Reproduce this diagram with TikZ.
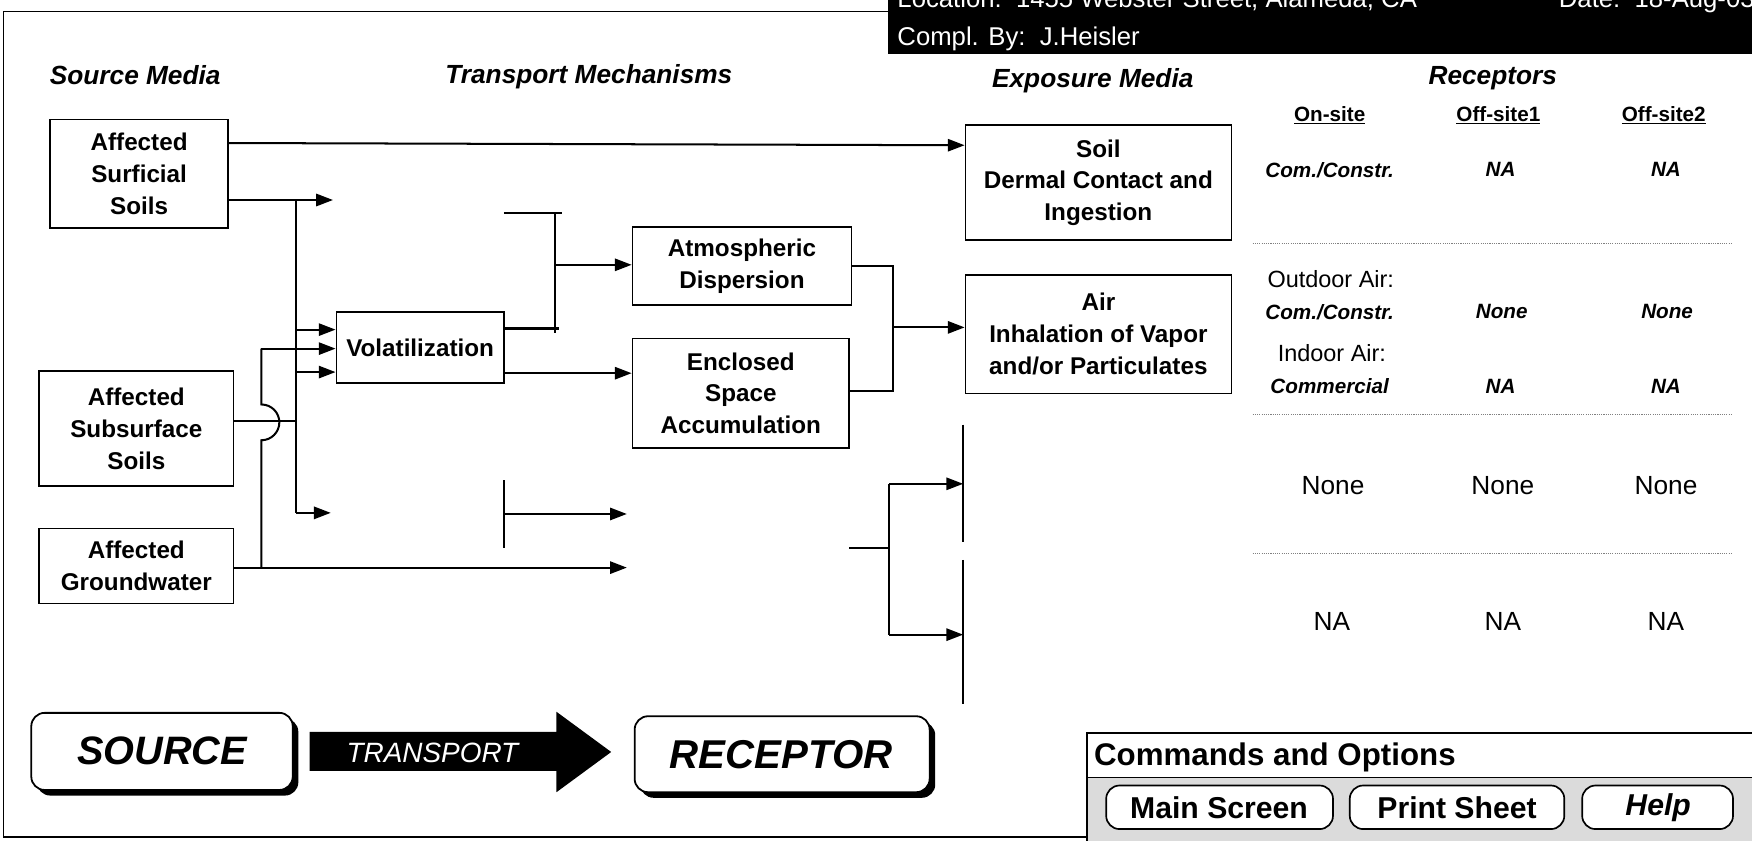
\documentclass[tikz,border=0pt]{standalone}
\usepackage{fontspec}
\setmainfont{Liberation Sans}
\usetikzlibrary{arrows.meta}
\begin{document}
\begin{tikzpicture}[x=1pt,y=-1pt,
  box/.style={draw, line width=1.4pt, align=center, inner sep=0pt,
    font=\bfseries\fontsize{21.7}{28.5}\selectfont},
  conn/.style={line width=1.8pt},
  arr/.style={conn, -{Triangle[length=15pt,width=11pt]}},
  hdr/.style={font=\bfseries\itshape\fontsize{23.5}{28}\selectfont},
  colhdr/.style={font=\bfseries\fontsize{18.5}{22}\selectfont},
  cellbi/.style={font=\bfseries\itshape\fontsize{18.5}{22}\selectfont},
  cellr/.style={font=\fontsize{21}{25}\selectfont},
  cellbig/.style={font=\fontsize{23.5}{28}\selectfont},
  sepline/.style={gray, line width=0.9pt, dash pattern=on 1pt off 1pt},
  bigbox/.style={draw, line width=1.6pt, rounded corners=12pt, fill=white},
  btn/.style={draw, line width=1.5pt, rounded corners=12pt, fill=white},
  btntext/.style={font=\bfseries\fontsize{27}{32}\selectfont},
  wtext/.style={white, font=\fontsize{23}{28}\selectfont, inner sep=0pt}
]
\useasboundingbox (0,0) rectangle (1568,752);
\clip (0,0) rectangle (1568,752);
\fill[white] (0,0) rectangle (1568,752);

% outer frame
\draw[line width=1.2pt] (795,10) -- (3,10) -- (3,749) -- (975,749);

% title bar
\fill[black] (795,-5) rectangle (1575,48);
\node[wtext, anchor=base west] (loc) at (803,7) {Location:\ \ 1455 Webster Street, Alameda, CA};
\node[wtext, anchor=base west] (date) at (1395,7) {Date:\ \ 18-Aug-03};
\node[wtext, anchor=base west] (compl) at (803,41) {Compl. By:\ \ J.Heisler};

% headers
\node[hdr] (hsrc) at (121,67) {Source Media};
\node[hdr] (htr) at (527,69) {Transport Mechanisms};
\node[hdr] (hexp) at (978,72) {Exposure Media};
\node[hdr] (hrec) at (1336,70) {Receptors};

% boxes
\node[box, minimum width=159pt, minimum height=97pt] (surf) at (124.5,155.5) {Affected\\Surficial\\Soils};
\node[box, minimum width=174pt, minimum height=103pt] (subs) at (122,383.5) {Affected\\Subsurface\\Soils};
\node[box, minimum width=174pt, minimum height=67pt] (gw) at (122,506.5) {Affected\\Groundwater};
\node[box, minimum width=150pt, minimum height=64pt] (vol) at (376,311) {Volatilization};
\node[box, minimum width=196pt, minimum height=70pt] (atm) at (664,238) {Atmospheric\\Dispersion};
\node[box, minimum width=194pt, minimum height=98pt] (enc) at (663,352) {Enclosed\\Space\\Accumulation};
\node[box, minimum width=238pt, minimum height=103pt] (soil) at (983,163.5) {Soil\\Dermal Contact and\\Ingestion};
\node[box, minimum width=238pt, minimum height=106pt] (air) at (983,299) {Air\\Inhalation of Vapor\\and/or Particulates};

% free connector ends (invisible boxes)
\coordinate (leachin) at (298,179);
\coordinate (leachout) at (451,191);
\coordinate (gwin) at (296,459);
\coordinate (gwout) at (451,460);
\coordinate (gwtr) at (561,460);
\coordinate (gwtr2) at (561,508);
\coordinate (gwexp) at (760,490);
\coordinate (hidA) at (862,433);
\coordinate (hidB) at (862,568);

% connectors
\draw[arr] (surf.east |- 0,128) -- (soil.west |- 0,130);
\draw[arr] (surf.east |- 0,179) -- (leachin);
\draw[conn] (265,179) -- (265,459);
\draw[arr] (265,295) -- (vol.west |- 0,295);
\draw[arr] (265,333) -- (vol.west |- 0,333);
\draw[arr] (265,459) -- (gwin);
\draw[conn] (subs.east |- 0,377) -- (265,377);
\draw[arr] (gw.east |- 0,508) -- (gwtr2);
\draw[conn] (234,508) -- (234,394) arc[start angle=-90, end angle=90, radius=16pt] -- (234,312);
\draw[arr] (234,312) -- (vol.west |- 0,312);

\draw[conn] (leachout) -- (503,191);
\draw[conn] (497,190) -- (497,298);
\draw[conn] (vol.east |- 0,294) -- (500,294);
\draw[arr] (497,237) -- (atm.west |- 0,237);
\draw[arr] (vol.east |- 0,334) -- (enc.west |- 0,334);

\draw[conn] (atm.east |- 0,238) -- (799,238) -- (799,350) -- (enc.east |- 0,350);
\draw[arr] (799,293) -- (air.west |- 0,293);

\draw[conn] (451,430) -- (451,490);
\draw[arr] (gwout) -- (gwtr);
\draw[conn] (gwexp) -- (796,490);
\draw[conn] (796,433) -- (796,568);
\draw[arr] (796,433) -- (hidA);
\draw[arr] (796,568) -- (hidB);
\draw[line width=1.2pt] (862,380) -- (862,485);
\draw[line width=1.2pt] (862,501) -- (862,630);

% receptors table
\node[colhdr] (onsite) at (1190,103) {\underline{On-site}};
\node[colhdr] (off1) at (1341,103) {\underline{Off-site1}};
\node[colhdr] (off2) at (1489,103) {\underline{Off-site2}};

\node[cellbi] (r1a) at (1190,152) {Com./Constr.};
\node[cellbi] (r1b) at (1343,152) {NA};
\node[cellbi] (r1c) at (1491,152) {NA};
\draw[sepline] (1121,218) -- (1551,218);

\node[cellr] (r2lab) at (1191,250) {Outdoor Air:};
\node[cellbi] (r2a) at (1190,279) {Com./Constr.};
\node[cellbi] (r2b) at (1344,279) {None};
\node[cellbi] (r2c) at (1492,279) {None};
\node[cellr] (r3lab) at (1192,316) {Indoor Air:};
\node[cellbi] (r3a) at (1190,346) {Commercial};
\node[cellbi] (r3b) at (1343,346) {NA};
\node[cellbi] (r3c) at (1491,346) {NA};
\draw[sepline] (1121,371) -- (1551,371);

\node[cellbig] (r4a) at (1193,435) {None};
\node[cellbig] (r4b) at (1345,435) {None};
\node[cellbig] (r4c) at (1491,435) {None};
\draw[sepline] (1121,495) -- (1551,495);

\node[cellbig] (r5a) at (1192,556) {NA};
\node[cellbig] (r5b) at (1345,556) {NA};
\node[cellbig] (r5c) at (1491,556) {NA};

% source - transport - receptor
\fill[black, rounded corners=12pt] (33,643) rectangle (267,712);
\draw[bigbox] (28,638) rectangle (262,707);
\node[font=\bfseries\itshape\fontsize{35.5}{40}\selectfont] (src) at (145,672) {SOURCE};
\fill[black, rounded corners=12pt] (573,646) rectangle (837,714);
\draw[bigbox] (568,641) rectangle (832,709);
\node[font=\bfseries\itshape\fontsize{36}{40}\selectfont] (rec) at (699,675) {RECEPTOR};
\fill[black] (277,655) -- (498,655) -- (498,637) -- (547,673) -- (498,709) -- (498,690) -- (277,690) -- cycle;
\node[white, font=\itshape\fontsize{25}{30}\selectfont] (trn) at (387,674) {TRANSPORT};

% commands and options
\fill[gray!28] (973,696) rectangle (1575,760);
\draw[line width=1.4pt] (973,760) -- (973,656) -- (1575,656);
\draw[line width=1.2pt] (973,696) -- (1575,696);
\node[anchor=west, font=\bfseries\fontsize{28}{32}\selectfont, inner sep=0pt] (cmd) at (979,678) {Commands and Options};
\draw[btn] (990,703) rectangle (1193,742);
\node[btntext] (mainbtn) at (1091,723) {Main Screen};
\draw[btn] (1208,703) rectangle (1400,742);
\node[btntext] (printbtn) at (1304,723) {Print Sheet};
\draw[btn] (1416,703) rectangle (1551,742);
\node[btntext, font=\bfseries\itshape\fontsize{27}{32}\selectfont] (helpbtn) at (1484,723) {Help};
\end{tikzpicture}
\end{document}
